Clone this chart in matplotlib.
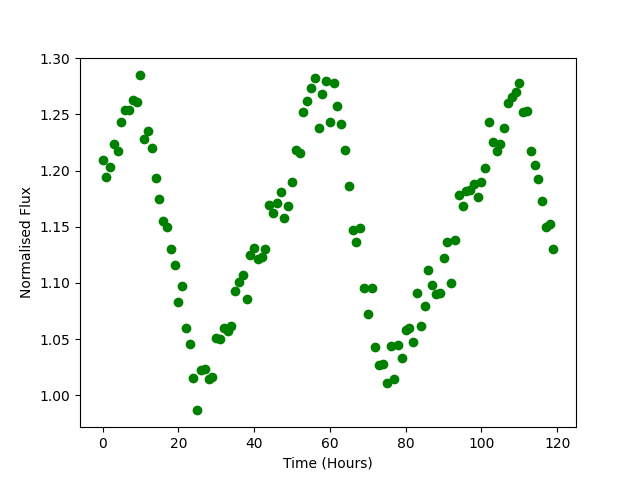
import numpy as np
import matplotlib
matplotlib.use('Agg')
import matplotlib.pyplot as plt

# Light curve: time in hours, normalised flux
hours = np.arange(120)
flux = [
    1.209, 1.194, 1.203, 1.224, 1.217, 1.243, 1.254, 1.254, 1.263, 1.261,
    1.285, 1.228, 1.235, 1.220, 1.193, 1.175, 1.155, 1.150, 1.130, 1.116,
    1.083, 1.097, 1.060, 1.046, 1.015, 0.987, 1.022, 1.023, 1.014, 1.016,
    1.051, 1.050, 1.060, 1.057, 1.062, 1.093, 1.101, 1.107, 1.086, 1.125,
    1.131, 1.121, 1.123, 1.130, 1.169, 1.162, 1.171, 1.181, 1.158, 1.168,
    1.190, 1.218, 1.216, 1.252, 1.262, 1.273, 1.282, 1.238, 1.268, 1.280,
    1.243, 1.278, 1.257, 1.241, 1.218, 1.186, 1.147, 1.136, 1.149, 1.095,
    1.072, 1.095, 1.043, 1.027, 1.028, 1.011, 1.044, 1.014, 1.045, 1.033,
    1.058, 1.060, 1.047, 1.091, 1.062, 1.079, 1.111, 1.098, 1.090, 1.091,
    1.122, 1.136, 1.100, 1.138, 1.178, 1.168, 1.182, 1.183, 1.188, 1.176,
    1.190, 1.202, 1.243, 1.225, 1.217, 1.224, 1.238, 1.260, 1.265, 1.270,
    1.278, 1.252, 1.253, 1.217, 1.205, 1.192, 1.173, 1.150, 1.152, 1.130,
]

fig, ax = plt.subplots(figsize=(6.4, 4.8), dpi=100)
ax.plot(hours, flux, 'go')
ax.set_ylim(0.9715, 1.3005)
ax.set_xlabel('Time (Hours)')
ax.set_ylabel('Normalised Flux')

plt.savefig('out.png')
